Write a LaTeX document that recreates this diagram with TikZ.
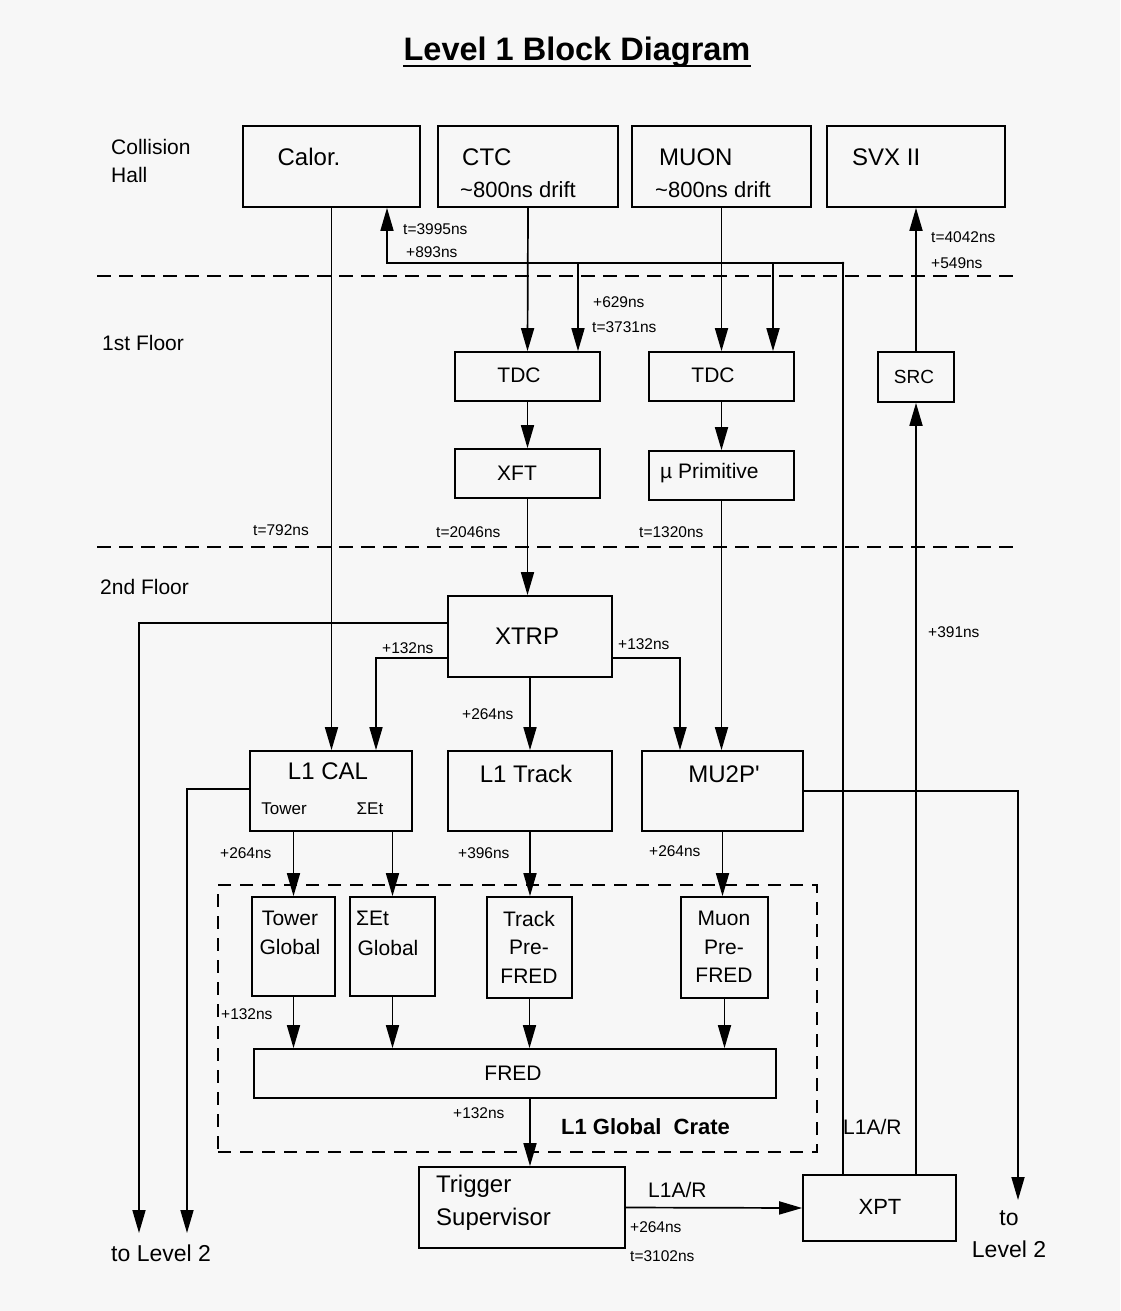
\documentclass[tikz,border=0pt]{standalone}
\usepackage{fontspec}
\setmainfont{Liberation Sans}
\usetikzlibrary{arrows.meta,fit,calc}
\definecolor{bg}{RGB}{247,247,247}
\begin{document}
\begin{tikzpicture}[x=1pt,y=-1pt,
  box/.style={draw, line width=1.7pt, inner sep=0pt},
  ln/.style={line width=1.7pt},
  arr/.style={line width=1.7pt, -{Triangle[length=23pt,width=13pt]}},
  floorline/.style={line width=1.5pt, dash pattern=on 14pt off 8pt},
  crate/.style={draw, line width=1.4pt, dash pattern=on 13pt off 9pt, inner sep=0pt},
  sm/.style={font=\fontsize{15.5}{18}\selectfont, inner sep=0pt},
  mid/.style={font=\fontsize{21}{29}\selectfont, inner sep=0pt, align=center},
  big/.style={font=\fontsize{24}{30}\selectfont, inner sep=0pt},
  tower/.style={font=\fontsize{17}{20}\selectfont, inner sep=0pt}]
\fill[bg] (0,0) rectangle (1120,1311);
\useasboundingbox (0,0) rectangle (1120,1311);

% title
\node[font=\bfseries\fontsize{32.5}{38}\selectfont, inner sep=0pt, anchor=base] (title) at (577,61) {Level 1 Block Diagram};
\draw[line width=1.7pt] ([yshift=-5pt]title.base west) -- ([yshift=-5pt]title.base east);

% floor labels
\node[mid, anchor=west, align=left, font=\fontsize{21}{28}\selectfont] (hall) at (111,161) {Collision\\Hall};
\node[mid, anchor=west] (fl1) at (102,343) {1st Floor};
\node[mid, anchor=west] (fl2) at (100,587) {2nd Floor};

% floor separators
\draw[floorline] (97,276) -- (1020,276);
\draw[floorline] (97,547) -- (1020,547);

% collision hall boxes
\node[box, fit={(243,126) (420,207)}] (calor) {};
\node[box, fit={(438,126) (618,207)}] (ctc) {};
\node[box, fit={(632,126) (811,207)}] (muon) {};
\node[box, fit={(827,126) (1005,207)}] (svx) {};
\node[big] at (309,157) {Calor.};
\node[big, anchor=west] at (462,157) {CTC};
\node[mid, anchor=west, font=\fontsize{22}{26}\selectfont] at (460,190) {\textasciitilde 800ns drift};
\node[big, anchor=west] at (659,157) {MUON};
\node[mid, anchor=west, font=\fontsize{22}{26}\selectfont] at (655,190) {\textasciitilde 800ns drift};
\node[big, anchor=west] at (852,157) {SVX II};

% 1st floor boxes
\node[box, fit={(455,352) (600,401)}] (tdc1) {};
\node[box, fit={(455,449) (600,498)}] (xft) {};
\node[box, fit={(649,352) (794,401)}] (tdc2) {};
\node[box, fit={(649,451) (794,500)}] (mup) {};
\node[box, fit={(878,352) (954,402)}] (src) {};
\node[mid] at (519,375) {TDC};
\node[mid] at (517,473) {XFT};
\node[mid] at (713,375) {TDC};
\node[mid, anchor=west] at (660,473) {µ Primitive};
\node[mid, font=\fontsize{19}{22}\selectfont] at (914,377) {SRC};

% 2nd floor boxes
\node[box, fit={(448,596) (612,677)}] (xtrp) {};
\node[big] at (527,636) {XTRP};
\node[box, fit={(250,751) (412,831)}] (l1cal) {};
\node[big] at (328,771) {L1 CAL};
\node[tower] at (284,809) {Tower};
\node[tower] at (370,809) {ΣEt};
\node[box, fit={(448,751) (612,831)}] (l1trk) {};
\node[big] at (526,774) {L1 Track};
\node[box, fit={(642,751) (803,831)}] (mu2p) {};
\node[big] at (724,774) {MU2P\textquotesingle};

% L1 global crate
\node[crate, fit={(218,885) (817,1152)}] (crate) {};
\node[box, fit={(252,897) (335,996)}] (towg) {};
\node[mid] at (290,933) {Tower\\Global};
\node[box, fit={(350,897) (435,996)}] (setg) {};
\node[mid, anchor=west] at (356,918) {ΣEt};
\node[mid] at (388,948) {Global};
\node[box, fit={(487,897) (572,998)}] (trkp) {};
\node[mid, font=\fontsize{21}{28.5}\selectfont] at (529,947) {Track\\Pre-\\FRED};
\node[box, fit={(681,897) (768,998)}] (mupf) {};
\node[mid, font=\fontsize{21}{28.5}\selectfont] at (724,947) {Muon\\Pre-\\FRED};
\node[box, fit={(254,1049) (776,1098)}] (fred) {};
\node[mid] at (513,1073) {FRED};
\node[font=\bfseries\fontsize{22}{26}\selectfont, inner sep=0pt, anchor=west] at (561,1127) {L1 Global\ \ Crate};

% trigger supervisor and XPT
\node[box, fit={(419,1167) (625,1248)}] (ts) {};
\node[big, anchor=west, align=left, font=\fontsize{24}{33}\selectfont] at (436,1203) {Trigger\\Supervisor};
\node[box, fit={(803,1175) (956,1241)}] (xpt) {};
\node[mid, font=\fontsize{22}{26}\selectfont] at (880,1207) {XPT};

% outputs to level 2
\coordinate (outA) at (139,1233);
\coordinate (outB) at (187,1233);
\coordinate (outC) at (1018,1200);
\node[big, anchor=west, font=\fontsize{23}{30}\selectfont] (tl2a) at (111,1253) {to Level 2};
\node[big, align=center, font=\fontsize{23}{32}\selectfont] (tl2b) at (1009,1234) {to\\Level 2};

% ---- connectors ----
\draw[arr] (calor.south) -- (calor.south |- l1cal.north);
\draw[arr] (ctc.south) -- (tdc1.north);
\draw[arr] (muon.south) -- (tdc2.north);
\coordinate (fb) at (843,263);
\coordinate (fbL) at (387,263);
\coordinate (b1) at (578,263);
\coordinate (b2) at (773,263);
\draw[arr] (xpt.north -| fb) -- (fb) -- (fbL) -- (fbL |- calor.south);
\fill (fb) circle (1.4pt);
\draw[arr] (b1) -- (b1 |- tdc1.north);
\draw[arr] (b2) -- (b2 |- tdc2.north);
\draw[arr] (xpt.north -| src.south) -- (src.south);
\draw[arr] (src.north) -- (svx.south);
\draw[arr] (tdc1.south) -- (xft.north);
\draw[arr] (tdc2.south) -- (mup.north);
\draw[arr] (xft.south) -- (xft.south |- xtrp.north);
\draw[arr] (mup.south) -- (mup.south |- mu2p.north);
\coordinate (xa) at (139,623);
\coordinate (xb) at (376,658);
\coordinate (xc) at (680,658);
\draw[arr] (xtrp.west |- xa) -- (xa) -- (outA);
\draw[arr] (xtrp.west |- xb) -- (xb) -- (xb |- l1cal.north);
\draw[arr] (xtrp.east |- xc) -- (xc) -- (xc |- mu2p.north);
\draw[arr] (xtrp.south) -- (l1trk.north);
\coordinate (la) at (187,789);
\coordinate (ma) at (1018,791);
\draw[arr] (l1cal.west |- la) -- (la) -- (outB);
\draw[arr] (mu2p.east |- ma) -- (ma) -- (outC);
\draw[arr] (l1cal.south -| towg.north) -- (towg.north);
\draw[arr] (l1cal.south -| setg.north) -- (setg.north);
\draw[arr] (l1trk.south) -- (l1trk.south |- trkp.north);
\draw[arr] (mu2p.south) -- (mu2p.south |- mupf.north);
\draw[arr] (towg.south) -- (towg.south |- fred.north);
\draw[arr] (setg.south) -- (setg.south |- fred.north);
\draw[arr] (trkp.south) -- (trkp.south |- fred.north);
\draw[arr] (mupf.south) -- (mupf.south |- fred.north);
\coordinate (fs) at (fred.south -| l1trk.south);
\draw[arr] (fs) -- (fs |- ts.north);
\draw[arr] (ts.east) -- (xpt.west);

% ---- timing labels ----
\node[sm, anchor=west] at (403,229) {t=3995ns};
\node[sm, anchor=west] at (406,252) {+893ns};
\node[sm, anchor=west] at (593,302) {+629ns};
\node[sm, anchor=west] at (592,327) {t=3731ns};
\node[sm, anchor=west] at (931,237) {t=4042ns};
\node[sm, anchor=west] at (931,263) {+549ns};
\node[sm, anchor=west] at (253,530) {t=792ns};
\node[sm, anchor=west] at (436,532) {t=2046ns};
\node[sm, anchor=west] at (639,532) {t=1320ns};
\node[sm, anchor=west] at (382,648) {+132ns};
\node[sm, anchor=west] at (618,644) {+132ns};
\node[sm, anchor=west] at (462,714) {+264ns};
\node[sm, anchor=west] at (928,632) {+391ns};
\node[sm, anchor=west] at (220,853) {+264ns};
\node[sm, anchor=west] at (458,853) {+396ns};
\node[sm, anchor=west] at (649,851) {+264ns};
\node[sm, anchor=west] at (221,1014) {+132ns};
\node[sm, anchor=west] at (453,1113) {+132ns};
\node[mid, anchor=west] at (648,1190) {L1A/R};
\node[mid, anchor=west] at (843,1127) {L1A/R};
\node[sm, anchor=west] at (630,1227) {+264ns};
\node[sm, anchor=west] at (630,1256) {t=3102ns};
\end{tikzpicture}
\end{document}
